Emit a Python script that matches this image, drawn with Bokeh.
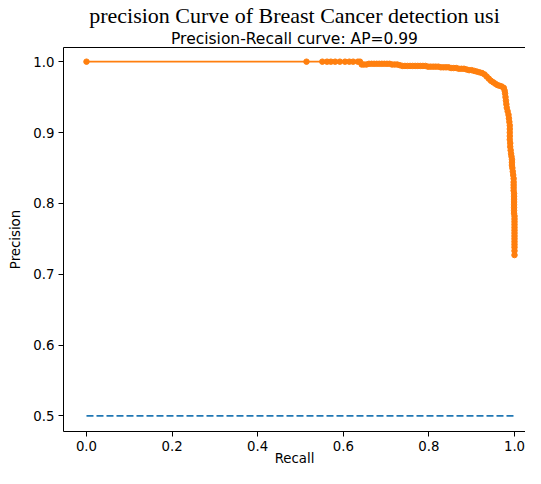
import numpy as np
from bokeh.plotting import figure
from bokeh.models import Range1d, FixedTicker, PrintfTickFormatter, LinearAxis, Title
from bokeh.embed import file_html
from bokeh.resources import INLINE

# ---- data ----
recall = [0.000, 0.514, 0.551, 0.562, 0.571, 0.581, 0.592, 0.604, 0.614, 0.623,
          0.634, 0.639, 0.643, 0.648, 0.654, 0.660, 0.666, 0.672, 0.678, 0.684,
          0.690, 0.696, 0.702, 0.708, 0.714, 0.720, 0.726, 0.732, 0.738, 0.744,
          0.750, 0.756, 0.762, 0.768, 0.774, 0.780, 0.786, 0.792, 0.798, 0.804,
          0.810, 0.816, 0.822, 0.828, 0.834, 0.840, 0.846, 0.852, 0.858, 0.864,
          0.870, 0.876, 0.882, 0.888, 0.894, 0.900, 0.906, 0.912, 0.918, 0.924,
          0.930, 0.935, 0.940, 0.945, 0.950, 0.955, 0.960, 0.965, 0.970, 0.975,
          0.977, 0.978, 0.979, 0.980, 0.981, 0.982, 0.984, 0.986, 0.987, 0.988,
          0.989, 0.989, 0.989, 0.989, 0.989, 0.990, 0.990, 0.991, 0.992, 0.993,
          0.994, 0.994, 0.994, 0.995, 0.996, 0.997, 0.998, 0.998, 0.998, 0.998,
          0.998, 0.999, 0.999, 0.999, 0.999, 0.999, 0.999, 0.999, 0.999, 1.000,
          1.000, 1.000, 1.000, 1.000, 1.000, 1.000, 1.000, 1.000, 1.000, 1.000,
          1.000, 1.000, 1.000]
precision = [1.000, 1.000, 1.000, 1.000, 1.000, 1.000, 1.000, 1.000, 1.000, 1.000,
             1.000, 1.000, 0.996, 0.996, 0.996, 0.997, 0.997, 0.997, 0.997, 0.997,
             0.997, 0.997, 0.997, 0.997, 0.996, 0.996, 0.996, 0.995, 0.994, 0.994,
             0.994, 0.994, 0.994, 0.994, 0.994, 0.994, 0.994, 0.994, 0.993, 0.993,
             0.993, 0.993, 0.993, 0.992, 0.992, 0.992, 0.992, 0.991, 0.991, 0.991,
             0.990, 0.990, 0.990, 0.989, 0.988, 0.988, 0.987, 0.986, 0.985, 0.984,
             0.982, 0.979, 0.976, 0.973, 0.971, 0.969, 0.967, 0.966, 0.965, 0.963,
             0.959, 0.955, 0.950, 0.945, 0.940, 0.935, 0.930, 0.925, 0.920, 0.915,
             0.910, 0.905, 0.900, 0.895, 0.890, 0.885, 0.880, 0.875, 0.870, 0.866,
             0.862, 0.858, 0.854, 0.850, 0.845, 0.840, 0.835, 0.830, 0.826, 0.822,
             0.818, 0.814, 0.810, 0.806, 0.802, 0.798, 0.794, 0.790, 0.786, 0.782,
             0.778, 0.774, 0.770, 0.766, 0.762, 0.758, 0.754, 0.750, 0.746, 0.742,
             0.738, 0.733, 0.727]
no_skill_x = [0.0, 1.0]
no_skill_y = [0.5, 0.5]
x_ticks = [0.0, 0.2, 0.4, 0.6, 0.8, 1.0]
y_ticks = [0.5, 0.6, 0.7, 0.8, 0.9, 1.0]
outer_title = "precision Curve of Breast Cancer detection usi"
inner_title = "Precision-Recall curve: AP=0.99"
x_label = "Recall"
y_label = "Precision"

FONT = "DejaVu Sans"
X0, X1 = -0.0537, 1.0257
Y0, Y1 = 0.478, 1.02

p = figure(width=525, height=468, output_backend="svg", toolbar_location=None,
           title_location=None,
           x_range=Range1d(X0, X1), y_range=Range1d(Y0, Y1),
           min_border_left=63, min_border_right=0, min_border_top=0,
           min_border_bottom=35, x_axis_location=None, y_axis_location=None)
p.outline_line_color = None
p.grid.visible = False
p.background_fill_color = "white"
p.border_fill_color = "white"

def style_axis(ax, ticks):
    ax.ticker = FixedTicker(ticks=ticks)
    ax.formatter = PrintfTickFormatter(format="%.1f")
    ax.axis_line_color = "black"
    ax.axis_line_width = 1
    ax.major_tick_line_color = "black"
    ax.major_tick_out = 5
    ax.major_tick_in = 0
    ax.minor_tick_out = 0
    ax.minor_tick_in = 0
    ax.major_label_text_font = FONT
    ax.major_label_text_font_size = "13.3px"
    ax.major_label_text_color = "black"
    ax.major_label_standoff = 4
    ax.axis_label_text_font = FONT
    ax.axis_label_text_font_size = "13.3px"
    ax.axis_label_text_color = "black"
    ax.axis_label_text_font_style = "normal"

xa = LinearAxis(axis_label=x_label, axis_label_standoff=-3)
style_axis(xa, x_ticks)
p.add_layout(xa, "below")
ya = LinearAxis(axis_label=y_label, axis_label_standoff=7)
style_axis(ya, y_ticks)
p.add_layout(ya, "left")

top = LinearAxis(ticker=FixedTicker(ticks=[]), major_label_text_font_size="0px",
                 major_tick_out=0, major_tick_in=0, minor_tick_out=0, minor_tick_in=0,
                 axis_line_color="black", axis_line_width=1, major_label_standoff=0)
p.add_layout(top, "above")
p.add_layout(Title(text=inner_title, align="center", text_font=FONT,
                   text_font_size="15.5px", text_font_style="normal",
                   text_color="black", standoff=0, text_line_height=1.0), "above")
p.add_layout(Title(text=outer_title, align="center", text_font="Liberation Serif",
                   text_font_size="22px", text_font_style="normal",
                   text_color="black", standoff=0, text_line_height=1.0), "above")

p.line(no_skill_x, no_skill_y, line_color="#1f77b4", line_width=1.8, line_dash="7 3")
p.line(recall, precision, line_color="#ff7f0e", line_width=1.6)
p.scatter(recall, precision, size=5.5, fill_color="#ff7f0e", line_color="#ff7f0e")

open("out.html", "w").write(file_html(p, INLINE))
